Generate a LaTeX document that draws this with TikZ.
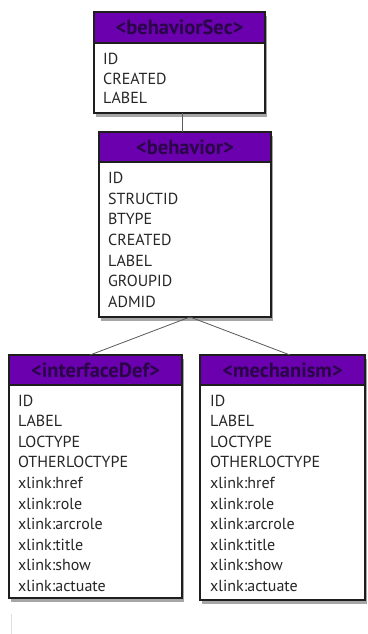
\documentclass[tikz,border=0pt]{standalone}
\usepackage{fontspec}
\setmainfont{PT Sans}
\usetikzlibrary{shadows,calc}
\definecolor{hdrfill}{HTML}{6A00AE}
\definecolor{hdrtext}{HTML}{2A0548}
\definecolor{bodytext}{HTML}{262626}
\definecolor{frame}{HTML}{1E1E1E}
\tikzset{
  boxframe/.style={draw=frame, line width=1.4pt, fill=white, inner sep=0pt, outer sep=0pt,
     anchor=north west, drop shadow={shadow xshift=2pt, shadow yshift=-4pt, opacity=0.35, fill=black}},
  boxhdr/.style={draw=frame, line width=1.4pt, fill=hdrfill, inner sep=0pt, outer sep=0pt,
     anchor=north west, text=hdrtext, font=\color{hdrtext}\fontsize{20.5}{23}\selectfont\bfseries},
  item/.style={anchor=base west, inner sep=0pt, text=bodytext, font=\fontsize{16}{18}\selectfont},
  link/.style={draw=black!65, line width=0.8pt}
}
\begin{document}
\begin{tikzpicture}[x=1pt,y=-1pt]
\useasboundingbox (0,0) rectangle (367,634);
\fill[white] (0,0) rectangle (367,634);

% behaviorSec
\node[boxframe, minimum width=171pt, minimum height=101pt] (bsec) at (94,12) {};
\node[boxhdr, minimum width=171pt, minimum height=31pt] (bsecH) at (94,12) {<behaviorSec>};
\foreach \t [count=\i] in {ID,CREATED,LABEL}
  \node[item] (bsec-\i) at (103,{46+\i*19}) {\t};

% behavior
\node[boxframe, minimum width=172pt, minimum height=185pt] (beh) at (99,132) {};
\node[boxhdr, minimum width=172pt, minimum height=30pt] (behH) at (99,132) {<behavior>};
\foreach \t [count=\i] in {ID,STRUCTID,BTYPE,CREATED,LABEL,GROUPID,ADMID}
  \node[item] (beh-\i) at (108,{163+\i*20.6}) {\t};

% interfaceDef
\node[boxframe, minimum width=173pt, minimum height=243pt] (idef) at (9,355) {};
\node[boxhdr, minimum width=173pt, minimum height=30pt] (idefH) at (9,355) {<interfaceDef>};
\foreach \t [count=\i] in {ID,LABEL,LOCTYPE,OTHERLOCTYPE,xlink:href,xlink:role,xlink:arcrole,xlink:title,xlink:show,xlink:actuate}
  \node[item] (idef-\i) at (18,{385.5+\i*20.6}) {\t};

% mechanism
\node[boxframe, minimum width=165pt, minimum height=245pt] (mech) at (200,355) {};
\node[boxhdr, minimum width=165pt, minimum height=30pt] (mechH) at (200,355) {<mechanism>};
\foreach \t [count=\i] in {ID,LABEL,LOCTYPE,OTHERLOCTYPE,xlink:href,xlink:role,xlink:arcrole,xlink:title,xlink:show,xlink:actuate}
  \node[item] (mech-\i) at (210,{385.5+\i*20.6}) {\t};

% connectors
\coordinate (bsecout) at ($(bsec.south)+(2.5,0)$);
\coordinate (apex) at ($(beh.south)+(5,0)$);
\coordinate (idefin) at ($(idefH.north)+(-5.5,0)$);
\coordinate (mechin) at ($(mechH.north)+(7.5,0)$);
\draw[link] (bsecout) -- (bsecout |- behH.north);
\draw[link] (apex) -- (idefin);
\draw[link] (apex) -- (mechin);

% faint mark at bottom left
\draw[black!12, line width=0.8pt] (11,614) -- (11,634);
\end{tikzpicture}
\end{document}
